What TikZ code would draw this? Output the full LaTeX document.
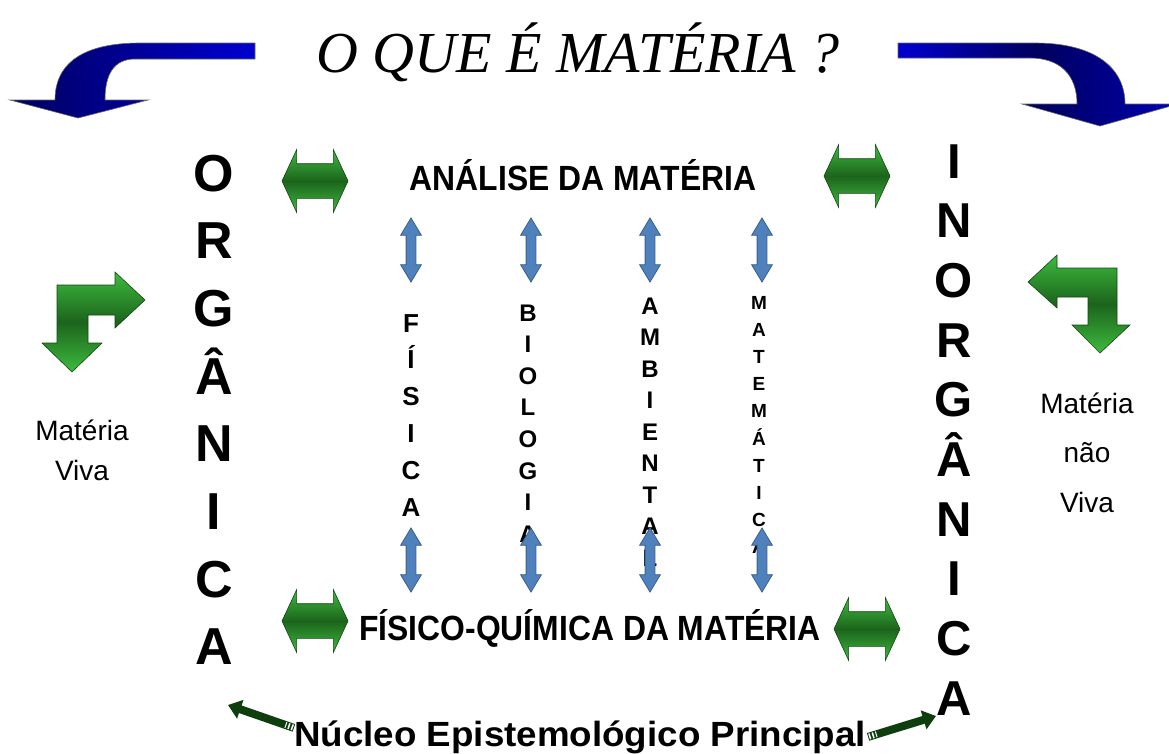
\documentclass[tikz,border=0pt]{standalone}
\usepackage{fontspec}
\setmainfont{Liberation Sans}
\newfontfamily\titlefont{Liberation Serif}
\usetikzlibrary{calc,shapes.arrows,arrows.meta}
\definecolor{navyblue}{HTML}{00005E}
\definecolor{brightblue}{HTML}{0000D0}
\definecolor{leafgreen}{HTML}{3DBB3D}
\definecolor{darkleaf}{HTML}{1C641C}
\definecolor{steelfill}{HTML}{4F81BD}
\definecolor{steeledge}{HTML}{3A5F8C}
\definecolor{pinegreen}{HTML}{0E3D0E}
\tikzset{
  bigletter/.style={font=\bfseries\fontsize{52}{52}\selectfont, inner sep=0pt, anchor=base},
  inletter/.style={font=\bfseries\fontsize{49}{49}\selectfont, inner sep=0pt, anchor=base},
  subjletter/.style={font=\bfseries\fontsize{#1}{#1}\selectfont, inner sep=0pt, anchor=base},
  headline/.style={font=\bfseries\fontsize{35}{35}\selectfont, inner sep=0pt, anchor=base, xscale=0.91},
  nucleotext/.style={font=\bfseries\fontsize{35}{35}\selectfont, inner sep=0pt, anchor=base, xscale=1.05},
  sidenote/.style={font=\fontsize{28}{28}\selectfont, inner sep=0pt, anchor=base},
  greenarrow/.style={double arrow, draw=darkleaf!70!black, line width=0.6pt,
    top color=leafgreen, bottom color=leafgreen, middle color=darkleaf,
    minimum height=66pt, minimum width=0pt, inner xsep=0pt, inner ysep=17pt,
    double arrow head extend=14pt, double arrow tip angle=130},
  bluearrow/.style={double arrow, rotate=90, draw=steeledge, fill=steelfill, line width=0.8pt,
    minimum height=64pt, minimum width=0pt, inner xsep=0pt, inner ysep=4.5pt,
    double arrow head extend=5.5pt, double arrow tip angle=62},
  cornerarrow/.style={draw=darkleaf!70!black, line width=0.6pt,
    top color=leafgreen, bottom color=leafgreen, middle color=darkleaf},
  nucleoarrow/.style={draw=pinegreen, line width=8pt, -{Triangle[width=19pt,length=13pt]}},
}

\begin{document}
\begin{tikzpicture}[x=1pt,y=-1pt]
  \useasboundingbox (0,0) rectangle (1169,753);

  %%%%% TITLE AND BLUE ARROWS %%%%%
  \node[font=\titlefont\itshape\fontsize{58}{58}\selectfont, inner sep=0pt, anchor=base] (title) at (578,72) {O QUE É MATÉRIA ?};

  \draw[draw=black!60, line width=0.6pt, left color=navyblue, right color=brightblue]
    (255,43) -- (140,43) .. controls (85,43) and (55,62) .. (55,100) -- (10,100) -- (78,118)
    -- (148,100) -- (105,100) .. controls (105,74) and (114,59) .. (135,59) -- (255,59) -- cycle;
  \draw[draw=black!60, line width=0.6pt, left color=brightblue, right color=brightblue!75!navyblue, middle color=navyblue]
    (898,43) -- (1035,43) .. controls (1095,43) and (1125,68) .. (1125,104) -- (1178,104) -- (1100,126)
    -- (1022,104) -- (1077,104) .. controls (1077,75) and (1060,58) .. (1030,58) -- (898,58) -- cycle;

  %%%%% ORGANICA / INORGANICA %%%%%
  \foreach \ch [count=\i] in {O,R,G,Â,N,I,C,A}
    \node[bigletter] (org\i) at (214,{191+67.7*(\i-1)}) {\ch};
  \foreach \ch [count=\i] in {I,N,O,R,G,Â,N,I,C,A}
    \node[inletter] (inorg\i) at (954,{178+59.7*(\i-1)}) {\ch};

  %%%%% SIDE NOTES %%%%%
  \draw[cornerarrow] (57,343) -- (57,285) -- (115,285) -- (115,272) -- (145,300) -- (115,328)
    -- (115,315) -- (88,315) -- (88,343) -- (102,343) -- (72,372) -- (42,343) -- cycle;
  \draw[cornerarrow] (1117,325) -- (1117,268) -- (1057,268) -- (1057,255) -- (1028,282) -- (1057,308)
    -- (1057,297) -- (1088,297) -- (1088,325) -- (1072,325) -- (1100,353) -- (1130,325) -- cycle;
  \node[sidenote] (vivaA) at (82,440) {Matéria};
  \node[sidenote] (vivaB) at (82,480) {Viva};
  \node[sidenote] (naoA) at (1087,413) {Matéria};
  \node[sidenote] (naoB) at (1087,462) {não};
  \node[sidenote] (naoC) at (1087,512) {Viva};

  %%%%% HEADLINES %%%%%
  \node[headline] (analise) at (583,190) {ANÁLISE DA MATÉRIA};
  \node[headline] (fisquim) at (590,640) {FÍSICO-QUÍMICA DA MATÉRIA};
  \node[greenarrow] (gTL) at (315,181) {};
  \node[greenarrow] (gTR) at (857,176) {};
  \node[greenarrow] (gBL) at (315,621) {};
  \node[greenarrow] (gBR) at (867,629) {};

  %%%%% SUBJECTS %%%%%
  \foreach \ch [count=\i] in {F,Í,S,I,C,A}
    \node[subjletter=26] (fis\i) at (411,{332+36.8*(\i-1)}) {\ch};
  \foreach \ch [count=\i] in {B,I,O,L,O,G,I,A}
    \node[subjletter=24] (bio\i) at (528,{321+31.6*(\i-1)}) {\ch};
  \foreach \ch [count=\i] in {A,M,B,I,E,N,T,A,L}
    \node[subjletter=24] (amb\i) at (650,{314+31.5*(\i-1)}) {\ch};
  \foreach \ch [count=\i] in {M,A,T,E,M,Á,T,I,C,A}
    \node[subjletter=19] (mat\i) at (759,{309+27.2*(\i-1)}) {\ch};

  \foreach \xx/\nm in {411/fis,531/bio,650/amb,762/mat} {
    \node[bluearrow] (up\nm) at (\xx,250) {};
    \node[bluearrow] (dn\nm) at (\xx,560) {};
  }

  %%%%% NUCLEO %%%%%
  \node[nucleotext] (nucleo) at (580,746) {Núcleo Epistemológico Principal};
  \coordinate (orgtip) at (228,705);
  \coordinate (inorgtip) at (936,716);
  \coordinate (orgtail) at ([yshift=9pt]nucleo.west);
  \coordinate (inorgtail) at ([xshift=2pt]nucleo.east);
  \draw[nucleoarrow] (orgtail) -- (orgtip);
  \draw[nucleoarrow] (inorgtail) -- (inorgtip);
  \draw[white, line width=6pt, dash pattern=on 1.5pt off 2pt] ($(orgtail)!1pt!(orgtip)$) -- ($(orgtail)!9pt!(orgtip)$);
  \draw[white, line width=6pt, dash pattern=on 1.5pt off 2pt] ($(inorgtail)!1pt!(inorgtip)$) -- ($(inorgtail)!9pt!(inorgtip)$);
\end{tikzpicture}
\end{document}
